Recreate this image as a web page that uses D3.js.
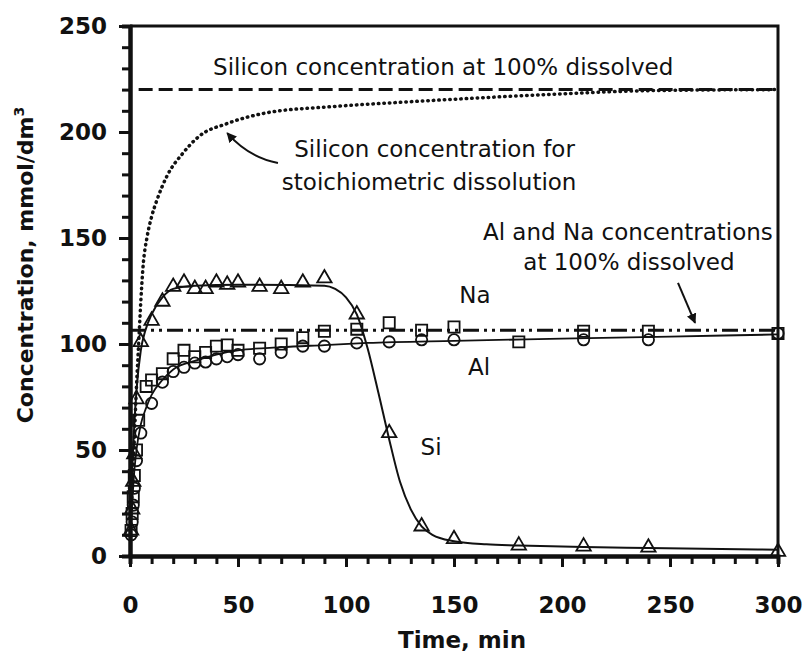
<!DOCTYPE html>
<html>
<head>
<meta charset="utf-8">
<script src="https://cdn.jsdelivr.net/npm/d3@7"></script>
<style>
	body { margin: 0; background: #fff; }
	text { font-family: 'DejaVu Sans', sans-serif; fill: #111; }
</style>
</head>
<body>
<div id="chart"></div>
<script>
// measured points (time in min, concentration in mmol/dm3)
var siTime = [0.5, 1, 1.5, 2, 3, 5, 10, 15, 20, 25, 30, 35, 40, 45, 50, 60, 70, 80, 90, 105, 120, 135, 150, 180, 210, 240, 300]
var siConc = [12, 22, 35, 48, 74, 101, 111, 120, 127, 129, 126, 126, 129, 128, 129, 127, 126, 129, 131, 114, 58, 14, 8, 5, 4.5, 4, 2]

var naTime = [0.5, 1, 1.5, 2, 3, 4, 7.5, 10, 15, 20, 25, 30, 35, 40, 45, 50, 60, 70, 80, 90, 105, 120, 135, 150, 180, 210, 240, 300]
var naConc = [12, 20, 28, 38, 50, 64, 80, 83, 86, 93, 97, 94, 96, 99, 99.5, 97, 98, 100, 103, 106, 107, 110, 106.5, 108, 101, 106, 106, 105]

var alTime = [0.5, 1, 1.5, 2, 3, 5, 10, 15, 20, 25, 30, 35, 40, 45, 50, 60, 70, 80, 90, 105, 120, 135, 150, 210, 240, 300]
var alConc = [10, 16, 24, 32, 45, 58, 72, 82, 87, 89, 91, 91.5, 93, 94, 95, 93, 96, 99, 99, 100.5, 101, 102, 102, 102, 102, 105]

// fitted curves
var siFitTime = [0, 1, 2, 3, 5, 7, 10, 15, 20, 30, 50, 90, 95, 100, 105, 110, 115, 120, 125, 130, 135, 140, 150, 165, 180, 210, 240, 300]
var siFitConc = [8, 40, 62, 78, 97, 106, 114, 122, 126, 127.5, 128, 127.5, 126, 122, 114, 98, 77, 55, 35, 22, 14, 10, 7, 5.5, 5, 4.2, 3.8, 3]

var alFitTime = [0, 1, 2, 3, 5, 7.5, 10, 15, 20, 30, 40, 50, 70, 90, 110, 150, 200, 250, 300]
var alFitConc = [8, 25, 40, 50, 62, 70, 76, 83, 88, 92, 95, 97, 98.5, 99.5, 100.5, 101.5, 102.5, 103.5, 104.5]

var stoichTime = [0, 1, 2, 3, 4, 5, 6, 8, 10, 12.5, 17, 24.5, 32, 45, 63, 94, 125, 160, 200, 240, 300]
var stoichConc = [12, 30, 55, 80, 100, 120, 136, 151, 160, 168, 179, 190, 198, 204, 209, 212, 214, 216, 218, 219.5, 220]

// 100% dissolved levels
var siFull = 220
var alNaFull = 106.5

var xMajor = [0, 50, 100, 150, 200, 250, 300]
var yMajor = [0, 50, 100, 150, 200, 250]

var W = 804, H = 661
var x = d3.scaleLinear().domain([0, 300]).range([130, 778])
var y = d3.scaleLinear().domain([0, 250]).range([556, 26])

var svg = d3.select('#chart').append('svg')
	.attr('width', W)
	.attr('height', H)

svg.append('defs').append('marker')
	.attr('id', 'head')
	.attr('viewBox', '0 0 10 10')
	.attr('refX', 9).attr('refY', 5)
	.attr('markerWidth', 5).attr('markerHeight', 5)
	.attr('orient', 'auto')
	.append('path')
	.attr('d', 'M0,0L10,5L0,10z')
	.attr('fill', '#111')

//frame (top and right)
svg.append('path')
	.attr('d', 'M' + x(0) + ',' + y(250) + 'H' + x(300) + 'V' + y(0))
	.attr('fill', 'none')
	.attr('stroke', '#111')
	.attr('stroke-width', 3)

//axes
function styleAxis(g, w){
	g.select('.domain').attr('stroke', '#111').attr('stroke-width', w)
	g.selectAll('.tick line').attr('stroke', '#111').attr('stroke-width', 3)
	g.selectAll('.tick text')
		.attr('font-size', '23px')
		.attr('font-weight', 'bold')
		.style('font-family', "'DejaVu Sans', sans-serif")
		.attr('fill', '#111')
}

svg.append('g')
	.attr('transform', 'translate(0,' + y(0) + ')')
	.call(d3.axisBottom(x).tickValues(d3.range(0, 301, 10)).tickSize(8).tickFormat(''))
	.call(styleAxis, 4)
svg.append('g')
	.attr('transform', 'translate(0,' + y(0) + ')')
	.call(d3.axisBottom(x).tickValues(xMajor).tickSize(11).tickSizeOuter(0).tickPadding(30))
	.call(styleAxis, 4)

svg.append('g')
	.attr('transform', 'translate(' + x(0) + ',0)')
	.call(d3.axisLeft(y).tickValues(d3.range(0, 251, 10)).tickSize(8).tickFormat(''))
	.call(styleAxis, 4)
svg.append('g')
	.attr('transform', 'translate(' + x(0) + ',0)')
	.call(d3.axisLeft(y).tickValues(yMajor).tickSize(11).tickSizeOuter(0).tickPadding(12))
	.call(styleAxis, 4)

//axis titles
svg.append('text')
	.attr('x', 462).attr('y', 648)
	.attr('text-anchor', 'middle')
	.attr('font-size', '23px')
	.attr('font-weight', 'bold')
	.text('Time, min')

var yt = svg.append('text')
	.attr('transform', 'translate(33,' + 265 + ') rotate(-90)')
	.attr('text-anchor', 'middle')
	.attr('font-size', '22px')
	.attr('font-weight', 'bold')
yt.append('tspan').text('Concentration, mmol/dm')
yt.append('tspan').attr('font-size', '14px').attr('dy', '-9').text('3')

//reference lines
var line = d3.line()
	.x(function(d){ return x(d[0]) })
	.y(function(d){ return y(d[1]) })

svg.append('path')
	.datum([[4, siFull], [300, siFull]])
	.attr('d', line)
	.attr('stroke', '#111').attr('stroke-width', 3)
	.attr('stroke-dasharray', '14,6')
	.attr('fill', 'none')

svg.append('path')
	.datum([[0, alNaFull], [300, alNaFull]])
	.attr('d', line)
	.attr('stroke', '#111').attr('stroke-width', 3)
	.attr('stroke-dasharray', '16,5,3,5,3,5')
	.attr('fill', 'none')

var smooth = d3.line()
	.x(function(d){ return x(d[0]) })
	.y(function(d){ return y(d[1]) })
	.curve(d3.curveMonotoneX)

svg.append('path')
	.datum(d3.zip(stoichTime, stoichConc))
	.attr('d', smooth)
	.attr('stroke', '#111').attr('stroke-width', 3.5)
	.attr('stroke-linecap', 'round')
	.attr('stroke-dasharray', '0.5,5')
	.attr('fill', 'none')

svg.append('path')
	.datum(d3.zip(siFitTime, siFitConc))
	.attr('d', smooth)
	.attr('stroke', '#111').attr('stroke-width', 2)
	.attr('fill', 'none')

svg.append('path')
	.datum(d3.zip(alFitTime, alFitConc))
	.attr('d', smooth)
	.attr('stroke', '#111').attr('stroke-width', 1.8)
	.attr('fill', 'none')

//markers
function drawPoints(ts, vs, type, size){
	svg.append('g').selectAll('path')
		.data(d3.zip(ts, vs)).enter()
		.append('path')
		.attr('transform', function(d){ return 'translate(' + x(d[0]) + ',' + y(d[1]) + ')' })
		.attr('d', d3.symbol().type(type).size(size))
		.attr('fill', 'none')
		.attr('stroke', '#111')
		.attr('stroke-width', 1.8)
}
drawPoints(alTime, alConc, d3.symbolCircle, 100)
drawPoints(naTime, naConc, d3.symbolSquare, 125)
drawPoints(siTime, siConc, d3.symbolTriangle, 90)

//annotations
function note(t, v, str){
	svg.append('text')
		.attr('x', x(t)).attr('y', y(v))
		.attr('text-anchor', 'middle')
		.attr('font-size', '23px')
		.text(str)
}
note(145, 227, 'Silicon concentration at 100% dissolved')
note(141, 188.2, 'Silicon concentration for')
note(138.5, 172.6, 'stoichiometric dissolution')
note(230.5, 149.1, 'Al and Na concentrations')
note(231, 135, 'at 100% dissolved')
note(159.7, 119.3, 'Na')
note(161.6, 85.4, 'Al')
note(139.4, 47.6, 'Si')

svg.append('path')
	.attr('d', 'M' + x(68.5) + ',' + y(185.4) + 'Q' + x(55) + ',' + y(188) + ' ' + x(45) + ',' + y(199.5))
	.attr('fill', 'none')
	.attr('stroke', '#111').attr('stroke-width', 2)
	.attr('marker-end', 'url(#head)')

svg.append('path')
	.attr('d', 'M' + x(253.7) + ',' + y(128.8) + 'L' + x(261.6) + ',' + y(110))
	.attr('fill', 'none')
	.attr('stroke', '#111').attr('stroke-width', 2)
	.attr('marker-end', 'url(#head)')
</script>
</body>
</html>
